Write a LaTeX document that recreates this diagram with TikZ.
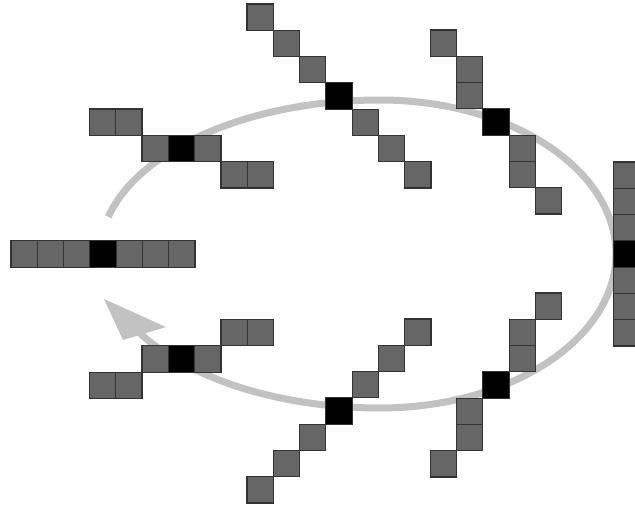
\documentclass[tikz,border=0pt]{standalone}
\definecolor{cellgray}{HTML}{666666}
\definecolor{cellborder}{HTML}{333333}
\definecolor{loopgray}{HTML}{C2C2C2}
\begin{document}
\begin{tikzpicture}[x=1pt,y=-1pt,
  cell/.style={fill=cellgray,draw=cellborder,line width=1.2pt},
  hub/.style={fill=black,draw=cellborder,line width=1.2pt},
  loop/.style={draw=loopgray,line width=7pt},
  loophead/.style={fill=loopgray}]
\useasboundingbox (0,0) rectangle (635,506);
\def\s{26.3}
% loop with arrow
\draw[loop] plot[domain=194:512,samples=240,smooth]
  ({380+ifthenelse(cos(\x)<0,280,236)*cos(\x)},{254+154*sin(\x)});
\fill[loophead] (104,299) -- (166,327) -- (123,340) -- cycle;
% patterns: center (cx,cy) and list of offsets
\foreach \cx/\cy/\offs in {
  103/254/{-3/0,-2/0,-1/0,1/0,2/0,3/0},
  181.5/148.5/{-3/-1,-2/-1,-1/0,1/0,2/1,3/1},
  339/96/{-3/-3,-2/-2,-1/-1,1/1,2/2,3/3},
  496/122/{-2/-3,-1/-2,-1/-1,1/1,1/2,2/3},
  627/254/{0/-3,0/-2,0/-1,0/1,0/2,0/3},
  496/385/{2/-3,1/-2,1/-1,-1/1,-1/2,-2/3},
  339/411/{3/-3,2/-2,1/-1,-1/1,-2/2,-3/3},
  181.5/359/{3/-1,2/-1,1/0,-1/0,-2/1,-3/1}}{
  \foreach \dx/\dy in \offs {
    \draw[cell] ({\cx+\dx*\s-\s/2},{\cy+\dy*\s-\s/2}) rectangle ++(\s,\s);
  }
  \draw[hub] ({\cx-\s/2},{\cy-\s/2}) rectangle ++(\s,\s);
}
\end{tikzpicture}
\end{document}
